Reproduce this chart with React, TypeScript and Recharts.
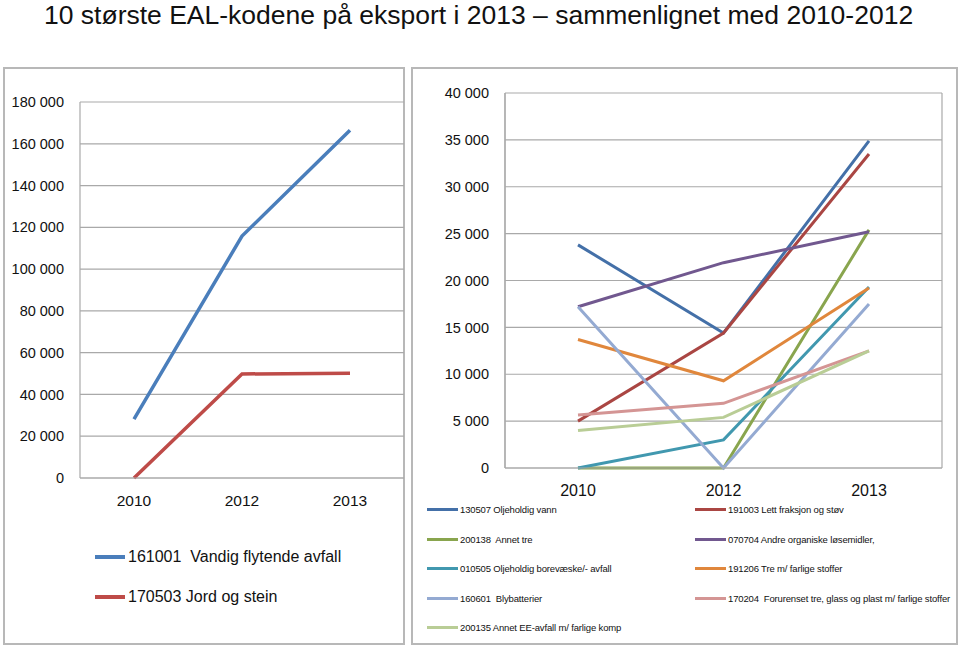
import { CartesianGrid, Line, LineChart, XAxis, YAxis } from "recharts";

const FONT = '"Liberation Sans", Arial, sans-serif';
const GRID = "#a9a9a9";

const YEARS = ["2010", "2012", "2013"];

// left panel: the two big ones
const VANDIG = [28200, 115800, 166500];
const JORD = [0, 49800, 50200];
const LEFT_TICKS = [0, 20000, 40000, 60000, 80000, 100000, 120000, 140000, 160000, 180000];

// right panel: the other codes
const OLJEVANN = [23800, 14400, 34900];
const LETT = [5000, 14400, 33500];
const ANNET_TRE = [0, 0, 25400];
const ORGANISKE = [17200, 21900, 25200];
const BOREVAESKE = [0, 3000, 19300];
const TRE_FARLIG = [13700, 9300, 19200];
const BLYBATT = [17200, 0, 17500];
const FORURENSET = [5650, 6900, 12500];
const EE_AVFALL = [4000, 5400, 12500];
const RIGHT_TICKS = [0, 5000, 10000, 15000, 20000, 25000, 30000, 35000, 40000];

const LEFT_SERIES = [
  { key: "vandig", name: "161001  Vandig flytende avfall", color: "#4a7ebb", values: VANDIG },
  { key: "jord", name: "170503 Jord og stein", color: "#be4b48", values: JORD },
];

const RIGHT_SERIES = [
  { key: "s130507", name: "130507 Oljeholdig vann", color: "#4470a8", values: OLJEVANN },
  { key: "s191003", name: "191003 Lett fraksjon og støv", color: "#aa4643", values: LETT },
  { key: "s200138", name: "200138  Annet tre", color: "#89a54e", values: ANNET_TRE },
  { key: "s070704", name: "070704 Andre organiske løsemidler,", color: "#71588f", values: ORGANISKE },
  { key: "s010505", name: "010505 Oljeholdig borevæske/- avfall", color: "#4198af", values: BOREVAESKE },
  { key: "s191206", name: "191206 Tre m/ farlige stoffer", color: "#e0873c", values: TRE_FARLIG },
  { key: "s160601", name: "160601  Blybatterier", color: "#94aad2", values: BLYBATT },
  { key: "s170204", name: "170204  Forurenset tre, glass og plast m/ farlige stoffer", color: "#d49594", values: FORURENSET },
  { key: "s200135", name: "200135 Annet EE-avfall m/ farlige komp", color: "#b9cd96", values: EE_AVFALL },
];

const leftData = YEARS.map((year, i) => {
  const row: Record<string, string | number> = { year };
  LEFT_SERIES.forEach((s) => (row[s.key] = s.values[i]));
  return row;
});

const rightData = YEARS.map((year, i) => {
  const row: Record<string, string | number> = { year };
  RIGHT_SERIES.forEach((s) => (row[s.key] = s.values[i]));
  return row;
});

const fmt = (v: number) => String(v).replace(/\B(?=(\d{3})+(?!\d))/g, " ");

const edgeLines = (props: any) => {
  const o = props.offset;
  return [o.left, o.left + o.width];
};

const panel: React.CSSProperties = {
  position: "absolute",
  top: 67,
  height: 578,
  border: "2px solid #b8b8b8",
  boxSizing: "border-box",
  background: "#fff",
};

export default function App() {
  return (
    <div
      style={{
        position: "absolute",
        left: 0,
        top: 0,
        width: 960,
        height: 646,
        background: "#fff",
        fontFamily: FONT,
        overflow: "hidden",
      }}
    >
      <div
        style={{
          position: "absolute",
          left: 44,
          top: 0,
          fontSize: 26.5,
          lineHeight: "30px",
          color: "#111",
          whiteSpace: "nowrap",
        }}
      >
        10 største EAL-kodene på eksport i 2013 – sammenlignet med 2010-2012
      </div>

      <div style={{ ...panel, left: 3, width: 402 }} />
      <div style={{ ...panel, left: 411, width: 547 }} />

      <div style={{ position: "absolute", left: 0, top: 60 }}>
        <LineChart width={404} height={460} data={leftData} margin={{ top: 42, right: 0, left: 0, bottom: 0 }}>
          <CartesianGrid vertical={false} stroke={GRID} strokeWidth={1.2} />
          <XAxis
            dataKey="year"
            padding={{ left: 54, right: 54 }}
            axisLine={{ stroke: GRID, strokeWidth: 1.2 }}
            tickLine={false}
            tickMargin={11}
            height={42}
            tick={{ fontSize: 15.5, fill: "#111", fontFamily: FONT }}
          />
          <YAxis
            width={80}
            domain={[0, 180000]}
            ticks={LEFT_TICKS}
            tickFormatter={fmt}
            axisLine={{ stroke: GRID, strokeWidth: 1.2 }}
            tickLine={false}
            tickMargin={10}
            tick={{ fontSize: 14.5, fill: "#111", fontFamily: FONT }}
          />
          {LEFT_SERIES.map((s) => (
            <Line
              key={s.key}
              dataKey={s.key}
              name={s.name}
              stroke={s.color}
              strokeWidth={3.5}
              dot={false}
              isAnimationActive={false}
            />
          ))}
        </LineChart>
      </div>

      <div style={{ position: "absolute", left: 412, top: 60 }}>
        <LineChart width={545} height={450} data={rightData} margin={{ top: 33, right: 15, left: 0, bottom: 0 }}>
          <CartesianGrid stroke={GRID} strokeWidth={1.2} verticalCoordinatesGenerator={edgeLines} />
          <XAxis
            dataKey="year"
            padding={{ left: 73, right: 73 }}
            axisLine={{ stroke: GRID, strokeWidth: 1.2 }}
            tickLine={false}
            tickMargin={11}
            height={42}
            tick={{ fontSize: 16, fill: "#111", fontFamily: FONT }}
          />
          <YAxis
            width={93}
            domain={[0, 40000]}
            ticks={RIGHT_TICKS}
            tickFormatter={fmt}
            axisLine={{ stroke: GRID, strokeWidth: 1.2 }}
            tickLine={false}
            tickMargin={10}
            tick={{ fontSize: 14.5, fill: "#111", fontFamily: FONT }}
          />
          {RIGHT_SERIES.map((s) => (
            <Line
              key={s.key}
              dataKey={s.key}
              name={s.name}
              stroke={s.color}
              strokeWidth={3}
              dot={false}
              isAnimationActive={false}
            />
          ))}
        </LineChart>
      </div>

      {/* left legend */}
      <div style={{ position: "absolute", left: 95, top: 537 }}>
        {LEFT_SERIES.map((s) => (
          <div key={s.key} style={{ display: "flex", alignItems: "center", height: 40 }}>
            <span style={{ width: 30, height: 3.5, background: s.color, marginRight: 3 }} />
            <span style={{ fontSize: 16, color: "#111", whiteSpace: "pre" }}>{s.name}</span>
          </div>
        ))}
      </div>

      {/* right legend */}
      <div style={{ position: "absolute", left: 413, top: 495, width: 543, height: 148, overflow: "hidden" }}>
        <div
          style={{
            position: "absolute",
            left: 14,
            top: 0,
            display: "grid",
            gridTemplateColumns: "268px 260px",
            gridAutoRows: 29.5,
          }}
        >
          {RIGHT_SERIES.map((s) => (
            <div key={s.key} style={{ display: "flex", alignItems: "center", whiteSpace: "pre" }}>
              <span style={{ width: 31, height: 3, background: s.color, marginRight: 2, flexShrink: 0 }} />
              <span style={{ fontSize: 9.5, letterSpacing: -0.15, color: "#111" }}>{s.name}</span>
            </div>
          ))}
        </div>
      </div>
    </div>
  );
}
